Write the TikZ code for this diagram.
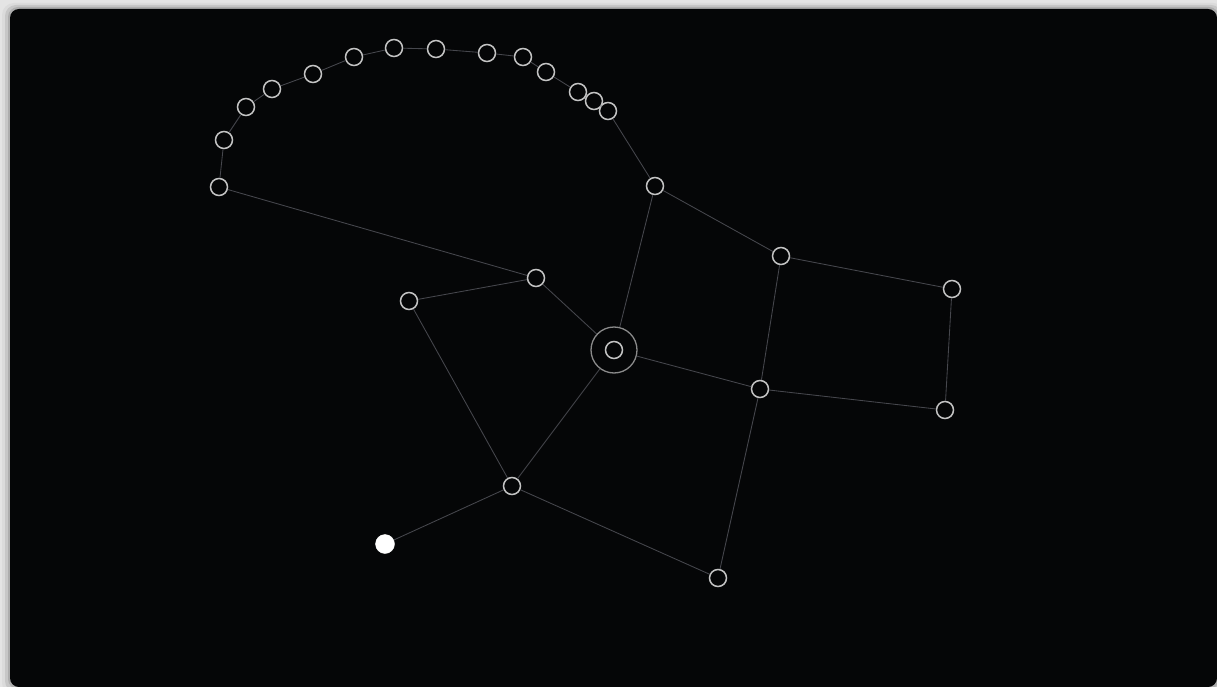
\documentclass[tikz,border=0pt]{standalone}
\definecolor{pagebg}{HTML}{E4E4E4}
\definecolor{panelbg}{HTML}{050607}
\definecolor{nodering}{HTML}{C4C4C4}
\definecolor{edgecol}{HTML}{46474D}
\definecolor{halocol}{HTML}{8A8A8A}
\tikzset{
  vtx/.style={circle, draw=nodering, line width=1.5pt, fill=panelbg, minimum size=17pt, inner sep=0pt},
  start/.style={circle, fill=white, draw=white, minimum size=19pt, inner sep=0pt},
  link/.style={draw=edgecol, line width=0.85pt},
  halo/.style={circle, draw=halocol, line width=1.3pt, minimum size=46pt, inner sep=0pt}
}
\begin{document}
\begin{tikzpicture}[x=1pt,y=-1pt]
\useasboundingbox (0,0) rectangle (1217,687);
\fill[pagebg] (0,0) rectangle (1217,687);
% soft shadow round the panel
\fill[black!14,rounded corners=12pt] (2,3) rectangle (1225,695);
\fill[black!22,rounded corners=11pt] (5,5) rectangle (1222,692);
\fill[black!32,rounded corners=10pt] (8,7) rectangle (1219,689);
\fill[panelbg,rounded corners=9pt] (10,9) rectangle (1217,687);
% arc nodes
\node[vtx] (a1) at (219,187) {};
\node[vtx] (a2) at (224,140) {};
\node[vtx] (a3) at (246,107) {};
\node[vtx] (a4) at (272,89) {};
\node[vtx] (a5) at (313,74) {};
\node[vtx] (a6) at (354,57) {};
\node[vtx] (a7) at (394,48) {};
\node[vtx] (a8) at (436,49) {};
\node[vtx] (a9) at (487,53) {};
\node[vtx] (a10) at (523,57) {};
\node[vtx] (a11) at (546,72) {};
\node[vtx] (a12) at (578,92) {};
\node[vtx] (a13) at (594,101) {};
\node[vtx] (a14) at (608,111) {};
% other nodes
\node[vtx] (b) at (655,186) {};
\node[vtx] (c) at (781,256) {};
\node[vtx] (d) at (952,289) {};
\node[vtx] (e) at (945,410) {};
\node[vtx] (f) at (760,389) {};
\node[halo] (hc) at (614,350) {};
\node[vtx] (g) at (614,350) {};
\node[vtx] (h) at (536,278) {};
\node[vtx] (i) at (409,301) {};
\node[vtx] (j) at (512,486) {};
\node[start] (k) at (385,544) {};
\node[vtx] (l) at (718,578) {};
% edges
\path[link] (a1) -- (a2);
\path[link] (a2) -- (a3);
\path[link] (a3) -- (a4);
\path[link] (a4) -- (a5);
\path[link] (a5) -- (a6);
\path[link] (a6) -- (a7);
\path[link] (a7) -- (a8);
\path[link] (a8) -- (a9);
\path[link] (a9) -- (a10);
\path[link] (a10) -- (a11);
\path[link] (a11) -- (a12);
\path[link] (a12) -- (a13);
\path[link] (a13) -- (a14);
\path[link] (a14) -- (b);
\path[link] (a1) -- (h);
\path[link] (b) -- (c);
\path[link] (b) -- (hc);
\path[link] (c) -- (d);
\path[link] (c) -- (f);
\path[link] (d) -- (e);
\path[link] (e) -- (f);
\path[link] (f) -- (hc);
\path[link] (f) -- (l);
\path[link] (hc) -- (h);
\path[link] (hc) -- (j);
\path[link] (h) -- (i);
\path[link] (i) -- (j);
\path[link] (j) -- (k);
\path[link] (j) -- (l);
\end{tikzpicture}
\end{document}
